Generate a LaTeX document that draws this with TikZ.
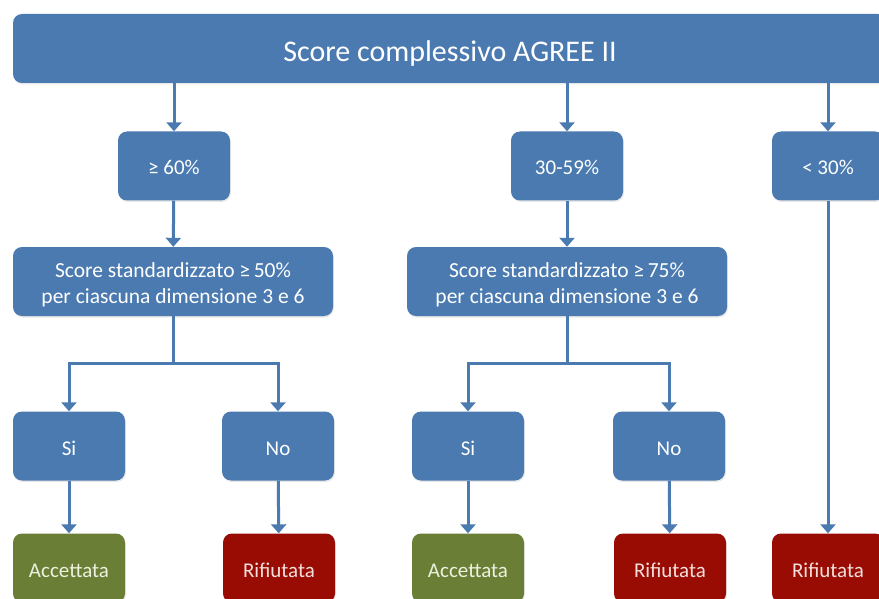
\documentclass[tikz,border=0pt]{standalone}
\usepackage{fontspec}
\setmainfont{Carlito}
\usepackage{tikz}
\definecolor{agreeBlue}{RGB}{74,122,176}
\definecolor{okGreen}{RGB}{106,126,54}
\definecolor{noRed}{RGB}{152,12,4}
\definecolor{okText}{RGB}{236,241,222}
\definecolor{noText}{RGB}{244,222,220}
\usetikzlibrary{positioning,arrows.meta,shadows}

\begin{document}
\begin{tikzpicture}[
  x=1pt,
  y=-1pt,
  >=Latex,
  every node/.style={align=center},
  box/.style={rounded corners=9pt, fill=agreeBlue, text=white, minimum height=69pt, inner sep=2pt,
    drop shadow={opacity=0.18, shadow xshift=0.8pt, shadow yshift=-1.5pt}},
  small/.style={box, minimum width=112pt, text height=18pt, text depth=0pt, font=\fontsize{21}{26}\selectfont},
  wide/.style={box, minimum width=320pt, text height=48pt, text depth=4.5pt, font=\fontsize{21.5}{26}\selectfont},
  okbox/.style={small, fill=okGreen, text=okText},
  nobox/.style={small, fill=noRed, text=noText},
  line/.style={draw=agreeBlue, line width=3pt},
  arr/.style={line, -{Triangle[width=15pt,length=9pt]}}
]
\useasboundingbox (0,0) rectangle (879,599);

\node[box, minimum width=874pt, text height=27pt, text depth=0pt, font=\fontsize{30}{34}\selectfont] (top) at (450,48.5) {Score complessivo AGREE II};

\node[small] (hi) at (174,166) {≥ 60\%};
\node[small] (mid) at (567,166) {30-59\%};
\node[small] (lo) at (828,166) {< 30\%};

\node[wide] (std1) at (173,281.5) {Score standardizzato ≥\,50\%\\per ciascuna dimensione 3 e 6};
\node[wide] (std2) at (567,281.5) {Score standardizzato ≥\,75\%\\per ciascuna dimensione 3 e 6};

\node[small] (si1) at (69,446) {Si};
\node[small] (no1) at (278,446) {No};
\node[small] (si2) at (468,446) {Si};
\node[small] (no2) at (669,446) {No};

\node[okbox] (acc1) at (69,568) {Accettata};
\node[nobox] (rif1) at (279,568) {Rifiutata};
\node[okbox] (acc2) at (468,568) {Accettata};
\node[nobox] (rif2) at (670,568) {Rifiutata};
\node[nobox] (rif3) at (828,568) {Rifiutata};

\coordinate (j1) at (173,363);
\coordinate (j2) at (567,363);

\draw[arr] (top.south -| hi) -- (hi.north);
\draw[arr] (top.south -| mid) -- (mid.north);
\draw[arr] (top.south -| lo) -- (lo.north);
\draw[arr] (hi) -- (std1);
\draw[arr] (mid) -- (std2);
\draw[arr] (lo) -- (rif3);

\draw[line] (std1.south) -- (j1);
\draw[arr] (j1) -| (si1.north);
\draw[arr] (j1) -| (no1.north);
\draw[line] (std2.south) -- (j2);
\draw[arr] (j2) -| (si2.north);
\draw[arr] (j2) -| (no2.north);

\draw[arr] (si1) -- (acc1);
\draw[arr] (no1) -- (rif1);
\draw[arr] (si2) -- (acc2);
\draw[arr] (no2) -- (rif2);
\end{tikzpicture}
\end{document}
